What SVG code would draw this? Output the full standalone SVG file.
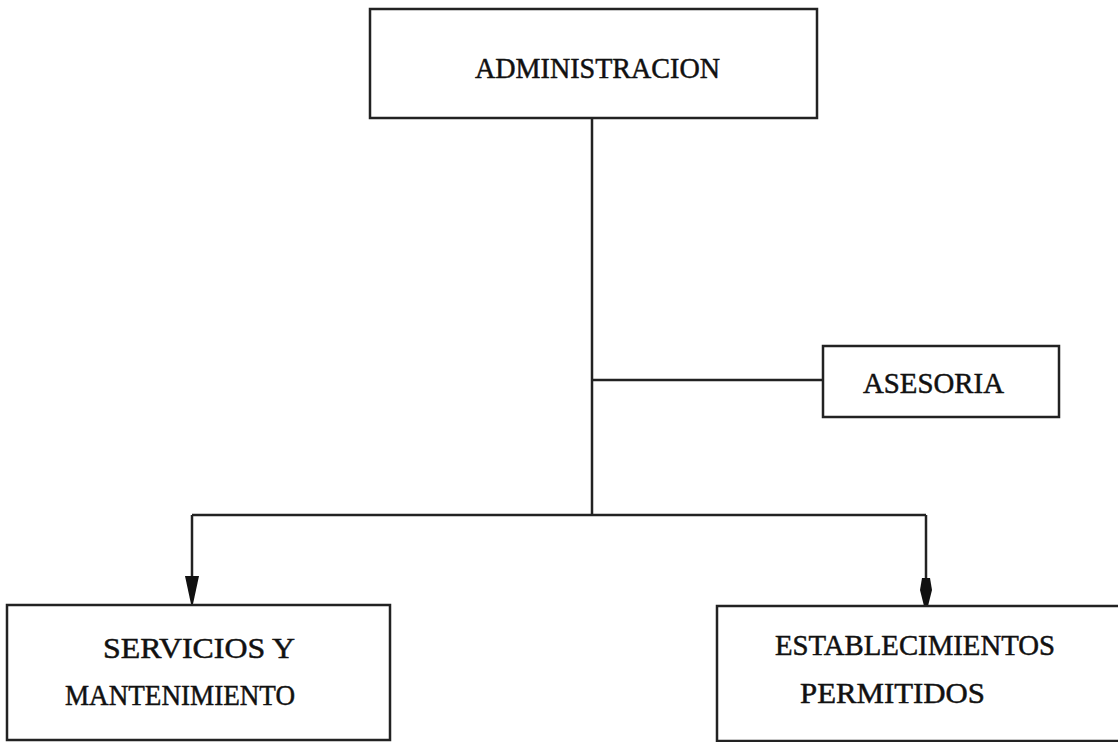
<svg xmlns="http://www.w3.org/2000/svg" width="1118" height="742" viewBox="0 0 1118 742">
<style>
.box{fill:none;stroke:#222;stroke-width:2.5}
.ln{fill:none;stroke:#222;stroke-width:2.5}
.t{font-family:"Liberation Serif","DejaVu Serif",serif;font-size:30px;fill:#111;stroke:#111;stroke-width:0.5}
</style>
<rect width="1118" height="742" fill="#fff"/>
<g id="connectors">
<line class="ln" x1="592" y1="118" x2="592" y2="515"/>
<line class="ln" x1="592" y1="380" x2="823" y2="380"/>
<line class="ln" x1="192" y1="515" x2="926" y2="515"/>
<path class="ln" d="M192,515 V576"/>
<path d="M185,576 L199,576 L196,590 L193,604 L191,604 L188,590 Z" fill="#111"/>
<path class="ln" d="M926,515 V578"/>
<path d="M922,578 L930,578 L932,590 L928,606 L924,606 L920,590 Z" fill="#111"/>
</g>
<g id="administracion">
<rect class="box" x="370" y="9" width="447" height="109"/>
<text class="t" x="475" y="78" textLength="245" lengthAdjust="spacingAndGlyphs">ADMINISTRACION</text>
</g>
<g id="asesoria">
<rect class="box" x="823" y="346" width="236" height="71"/>
<text class="t" x="863" y="393" textLength="141" lengthAdjust="spacingAndGlyphs">ASESORIA</text>
</g>
<g id="servicios">
<rect class="box" x="7" y="605" width="383" height="135"/>
<text class="t" x="103" y="658" textLength="192" lengthAdjust="spacingAndGlyphs">SERVICIOS Y</text>
<text class="t" x="65" y="705" textLength="230" lengthAdjust="spacingAndGlyphs">MANTENIMIENTO</text>
</g>
<g id="establecimientos">
<path class="box" d="M1118,606 H717 V741 H1118"/>
<text class="t" x="775" y="655" textLength="280" lengthAdjust="spacingAndGlyphs">ESTABLECIMIENTOS</text>
<text class="t" x="800" y="703" textLength="185" lengthAdjust="spacingAndGlyphs">PERMITIDOS</text>
</g>
</svg>
